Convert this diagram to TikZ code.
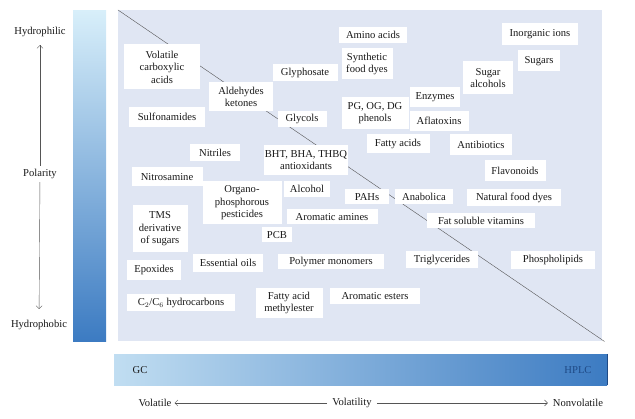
\documentclass[tikz,border=0pt]{standalone}
\usepackage{fontspec}
\setmainfont{Liberation Serif}
\usetikzlibrary{arrows.meta}
\definecolor{panelbg}{HTML}{E0E6F3}
\definecolor{barlight}{HTML}{D8EFFA}
\definecolor{bardark}{HTML}{3C7BC2}
\definecolor{hplcblue}{HTML}{1F4A86}
\definecolor{axisgray}{HTML}{555555}
\tikzset{
	compbox/.style={
		fill=white,
		align=center,
		inner sep=1pt,
		text=black!90,
		font=\fontsize{10.6}{12.4}\selectfont
	},
	axislabel/.style={
		inner sep=3pt,
		text=black!90,
		font=\fontsize{10.6}{12}\selectfont
	},
	axisFlow/.style={-{Straight Barb[length=3pt,width=6pt]}, axisgray, thin}
}
\begin{document}
\begin{tikzpicture}[x=1pt, y=-1pt]

	\useasboundingbox (0,0) rectangle (635,419);

	% Panels and gradient bars
	\node[fill=panelbg, minimum width=484pt, minimum height=331pt, inner sep=0pt, anchor=north west] (panel) at (118,10) {};
	\node[top color=barlight, bottom color=bardark, minimum width=33pt, minimum height=331pt, inner sep=0pt, anchor=north west] (polbar) at (73,10) {};
	\node[left color=barlight!85!bardark, right color=bardark, minimum width=493pt, minimum height=31pt, inner sep=0pt, anchor=north west] (volbar) at (114,354) {};
	\draw[hplcblue, line width=1.2pt] (volbar.north east) -- (volbar.south east);
	\node[axislabel, anchor=center] (gc) at (140,370) {GC};
	\node[axislabel, text=hplcblue, anchor=center] (hplc) at (578,370) {HPLC};

	% Divider
	\draw[axisgray, thin] (panel.north west) -- ([xshift=2pt]panel.south east);

	% Polarity axis
	\node[axislabel] (hydrophilic) at (40,32) {Hydrophilic};
	\node[axislabel] (polarity) at (40,174) {Polarity};
	\node[axislabel] (hydrophobic) at (39,325) {Hydrophobic};
	\draw[axisFlow, shorten >=5pt] (polarity) -- (hydrophilic);
	\draw[axisFlow, shorten >=8pt] (polarity) -- (hydrophobic);

	% Volatility axis
	\node[axislabel] (volatile) at (155,403) {Volatile};
	\node[axislabel] (volatility) at (352,403) {Volatility};
	\node[axislabel] (nonvolatile) at (578,403) {Nonvolatile};
	\draw[axisFlow, shorten <=2pt, shorten >=0pt] (volatility) -- (volatile);
	\draw[axisFlow, shorten <=2pt, shorten >=2pt] (volatility) -- (nonvolatile);

	% GC side
	\node[compbox, minimum width=76pt, minimum height=45pt] (vca) at (162,67) {Volatile\\carboxylic\\acids};
	\node[compbox, minimum width=76pt, minimum height=20pt] (sulfonamides) at (167,117) {Sulfonamides};
	\node[compbox, minimum width=71pt, minimum height=19pt] (nitrosamine) at (167,177) {Nitrosamine};
	\node[compbox, minimum width=55pt, minimum height=47pt] (tms) at (160,229) {TMS\\derivative\\of sugars};
	\node[compbox, minimum width=54pt, minimum height=20pt] (epoxides) at (154,270) {Epoxides};
	\node[compbox, minimum width=108pt, minimum height=17pt] (hydrocarbons) at (181,303) {C$_2$/C$_6$ hydrocarbons};
	\node[compbox, minimum width=64pt, minimum height=29pt] (aldehydes) at (241,97) {Aldehydes\\ketones};
	\node[compbox, minimum width=65pt, minimum height=17pt] (glyphosate) at (305,73) {Glyphosate};
	\node[compbox, minimum width=49pt, minimum height=16pt] (glycols) at (302,119) {Glycols};
	\node[compbox, minimum width=50pt, minimum height=17pt] (nitriles) at (215,153) {Nitriles};
	\node[compbox, minimum width=83pt, minimum height=30pt] (antioxidants) at (306,160) {BHT, BHA, THBQ\\antioxidants};
	\node[compbox, minimum width=79pt, minimum height=43pt] (organo) at (242,203) {Organo-\\phosphorous\\pesticides};
	\node[compbox, minimum width=46pt, minimum height=16pt] (alcohol) at (307,189) {Alcohol};
	\node[compbox, minimum width=91pt, minimum height=15pt] (aramines) at (332,217) {Aromatic amines};
	\node[compbox, minimum width=30pt, minimum height=15pt] (pcb) at (277,235) {PCB};
	\node[compbox, minimum width=70pt, minimum height=18pt] (essoils) at (228,263) {Essential oils};
	\node[compbox, minimum width=106pt, minimum height=15pt] (polymers) at (331,262) {Polymer monomers};
	\node[compbox, minimum width=67pt, minimum height=30pt] (fame) at (289,303) {Fatty acid\\methylester};
	\node[compbox, minimum width=90pt, minimum height=16pt] (aresters) at (375,296) {Aromatic esters};
	\node[compbox, minimum width=44pt, minimum height=15pt] (pahs) at (367,197) {PAHs};

	% HPLC side
	\node[compbox, minimum width=68pt, minimum height=16pt] (aminoacids) at (373,35) {Amino acids};
	\node[compbox, minimum width=51pt, minimum height=31pt] (syndyes) at (367,64) {Synthetic\\food dyes};
	\node[compbox, minimum width=67pt, minimum height=32pt] (phenols) at (375,113) {PG, OG, DG\\phenols};
	\node[compbox, minimum width=63pt, minimum height=19pt] (fattyacids) at (398,144) {Fatty acids};
	\node[compbox, minimum width=58pt, minimum height=15pt] (anabolica) at (424,197) {Anabolica};
	\node[compbox, minimum width=94pt, minimum height=17pt] (natdyes) at (514,198) {Natural food dyes};
	\node[compbox, minimum width=61pt, minimum height=21pt] (flavonoids) at (515,171) {Flavonoids};
	\node[compbox, minimum width=62pt, minimum height=21pt] (antibiotics) at (481,145) {Antibiotics};
	\node[compbox, minimum width=59pt, minimum height=20pt] (aflatoxins) at (439,121) {Aflatoxins};
	\node[compbox, minimum width=50pt, minimum height=20pt] (enzymes) at (435,97) {Enzymes};
	\node[compbox, minimum width=50pt, minimum height=33pt] (sugaralc) at (488,78) {Sugar\\alcohols};
	\node[compbox, minimum width=42pt, minimum height=21pt] (sugars) at (539,61) {Sugars};
	\node[compbox, minimum width=76pt, minimum height=22pt] (ions) at (540,34) {Inorganic ions};
	\node[compbox, minimum width=108pt, minimum height=15pt] (vitamins) at (481,221) {Fat soluble vitamins};
	\node[compbox, minimum width=72pt, minimum height=17pt] (triglycerides) at (442,260) {Triglycerides};
	\node[compbox, minimum width=84pt, minimum height=18pt] (phospholipids) at (553,260) {Phospholipids};

\end{tikzpicture}
\end{document}
